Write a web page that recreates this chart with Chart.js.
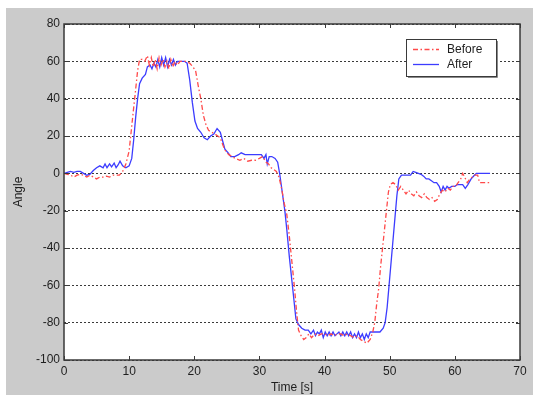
<!DOCTYPE html>
<html>
<head>
<meta charset="utf-8">
<script src="https://cdn.jsdelivr.net/npm/chart.js@4/dist/chart.umd.min.js"></script>
<style>
  html, body { margin: 0; padding: 0; background: #ffffff; }
  #wrap { position: absolute; left: 0; top: 0; width: 533px; height: 395px; }
</style>
</head>
<body>
<div id="wrap"><canvas id="c" width="533" height="395"></canvas></div>
<script>
// ---- data ----
const xTicks = [0, 10, 20, 30, 40, 50, 60, 70];
const yTicks = [-100, -80, -60, -40, -20, 0, 20, 40, 60, 80];
const seriesNames = ["Before", "After"];

const beforeTime = [0,0.5,1,1.5,2,2.5,3,3.5,4,4.5,5,5.5,6,6.5,7,7.5,8,8.5,9,9.5,10,10.3,10.6,11,11.3,11.6,12,12.4,12.8,13.1,13.4,13.7,14,14.3,14.6,14.9,15.2,15.5,15.8,16.1,16.4,16.7,17,17.4,17.8,18.3,18.8,19.3,19.8,20.2,20.6,21,21.4,21.8,22.2,22.7,23.2,23.6,24,24.4,24.8,25.3,25.8,26.3,27,27.6,28.2,28.8,29.4,30,30.5,31,31.4,31.8,32.2,32.6,33,33.4,33.8,34.2,34.6,35,35.4,35.7,36,36.4,36.8,37.2,37.6,38,38.5,39,39.5,40,40.5,41,41.5,42,42.5,43,43.5,44,44.5,45,45.5,46,46.5,47,47.4,47.7,48,48.3,48.6,48.9,49.2,49.5,49.8,50.1,50.5,50.9,51.3,51.7,52.1,52.5,52.9,53.3,53.7,54.1,54.5,54.9,55.3,55.7,56.1,56.5,56.9,57.3,57.7,58.1,58.5,58.9,59.3,59.7,60.1,60.5,60.9,61.2,61.5,61.9,62.3,62.7,63.1,63.5,63.8,64.5,65.3];
const beforeAngle = [0,-0.5,-1,-2,-1,-0.5,-1,-2,-1,-2,-3,-2,-2,-1.5,-2,-1,-1,-1,1,5,12,22,32,45,55,61,61,60,63,58,62,57,61,56,62,58,61,57,60,56,61,57,60,58,60,60,60,59,57,55,47,40,31,26,23,22,21,20,19,15,12,10,9,8,7,8,6.5,7,7,8,9,6,5,3,2,1,-2,-8,-16,-22,-34,-48,-62,-74,-84,-87,-89,-88,-86,-88,-86,-87,-86,-86,-87,-86,-87,-86,-86,-87,-86,-87,-88,-87,-89,-90,-91,-89,-85,-80,-70,-62,-50,-40,-30,-20,-10,-6,-5,-6,-9,-7,-9,-11,-9,-11,-12,-10,-12,-13,-11,-13,-14,-13,-15,-14,-11,-9,-10,-8,-9,-7,-7,-5,-3,0,-2,-5,-3,-2,-1,-1,-5,-5,-5];

const afterTime = [0,0.5,1,1.5,2,2.5,3,3.5,4,4.5,5,5.5,6,6.3,6.6,7,7.3,7.7,8,8.3,8.6,9,9.5,10,10.4,10.7,11,11.3,11.6,12,12.5,12.8,13.2,13.5,13.8,14.1,14.4,14.7,15,15.3,15.6,15.9,16.2,16.5,16.8,17.1,17.4,17.8,18.5,18.9,19.3,19.7,20.1,20.5,21,21.5,22,22.5,23,23.5,24,24.3,24.7,25.2,25.6,26.2,26.8,27.2,27.8,28.5,29.5,30.3,30.7,31,31.2,31.5,31.9,32.4,32.8,33.1,33.5,33.9,34.2,34.6,35,35.3,35.6,36,36.5,37,37.5,37.9,38.3,38.6,38.9,39.2,39.5,39.8,40.1,40.4,40.7,41,41.3,41.6,41.9,42.2,42.5,42.8,43.1,43.4,43.7,44,44.3,44.6,44.9,45.2,45.5,45.8,46.1,46.4,46.7,47,47.5,48,48.5,49,49.3,49.6,49.9,50.2,50.5,50.8,51.1,51.4,51.8,52.3,52.8,53.2,53.6,54,54.4,54.8,55.2,55.6,56,56.4,56.8,57.2,57.6,57.9,58.2,58.5,58.8,59.1,59.5,60,60.4,60.8,61.2,61.6,62,62.5,63,63.3,64,65,65.4];
const afterAngle = [0,0.5,1,0.5,1,1,0,-1,-0.5,1.5,3,4,3,5,3,5,3.5,5.5,3,4.5,6.5,4,3,4,8,18,30,40,48,51,53,57,58,56,59,57,61,57,62,58,62,57,61,58,61,58,60,60,60,59,50,38,28,24,22,19,18,20,21,24,22,18,13,11,9,9,10,11,10,10,10,10,8,10,5,9,9,8,6,0,-10,-20,-30,-45,-58,-68,-78,-81,-83,-84,-84,-86,-84,-87,-85,-86,-84,-88,-85,-87,-85,-87,-85,-87,-86,-85,-87,-85,-87,-85,-87,-85,-88,-86,-88,-85,-88,-86,-89,-86,-88,-85,-85,-85,-85,-83,-80,-72,-60,-48,-36,-24,-12,-3,-1,-1,-1,-1,1,0.5,0,-0.5,-1.5,-3,-3,-4,-5,-5,-7,-10,-7,-9,-7,-8,-7,-7,-6,-6,-6,-8,-6,-3,-1,0,0,0,0];

const toPts = (t, v) => t.map((x, i) => ({ x: x, y: v[i] }));

const FONT = "'Liberation Sans', Arial, sans-serif";
const TXT = '#1e1e1e';

const bgPlugin = {
  id: 'bg',
  beforeDraw(chart) {
    const ctx = chart.ctx;
    ctx.save();
    ctx.fillStyle = '#ffffff';
    ctx.fillRect(0, 0, chart.width, chart.height);
    ctx.fillStyle = '#cbcbcb';
    ctx.fillRect(6, 8, chart.width - 6, chart.height - 8);
    const a = chart.chartArea;
    ctx.fillStyle = '#ffffff';
    ctx.fillRect(a.left, a.top, a.right - a.left, a.bottom - a.top);
    ctx.restore();
  }
};

const framePlugin = {
  id: 'frame',
  afterDatasetsDraw(chart) {
    const ctx = chart.ctx, a = chart.chartArea;
    const xs = chart.scales.x, ys = chart.scales.y;
    ctx.save();
    ctx.strokeStyle = '#3a3a3a';
    ctx.lineWidth = 1.5;
    ctx.strokeRect(a.left, a.top, a.right - a.left, a.bottom - a.top);
    ctx.lineWidth = 1;
    ctx.beginPath();
    xTicks.forEach(v => {
      const px = Math.round(xs.getPixelForValue(v)) + 0.5;
      ctx.moveTo(px, a.bottom); ctx.lineTo(px, a.bottom - 4);
      ctx.moveTo(px, a.top); ctx.lineTo(px, a.top + 4);
    });
    yTicks.forEach(v => {
      const py = Math.round(ys.getPixelForValue(v)) + 0.5;
      ctx.moveTo(a.left, py); ctx.lineTo(a.left + 4, py);
      ctx.moveTo(a.right, py); ctx.lineTo(a.right - 4, py);
    });
    ctx.stroke();
    ctx.restore();
  }
};

const legendPlugin = {
  id: 'boxLegend',
  afterDraw(chart) {
    const ctx = chart.ctx;
    const x0 = 406, y0 = 39, w = 90, h = 37;
    ctx.save();
    ctx.fillStyle = '#ffffff';
    ctx.fillRect(x0, y0, w, h);
    ctx.strokeStyle = '#3a3a3a';
    ctx.lineWidth = 1;
    ctx.strokeRect(x0 + 0.5, y0 + 0.5, w, h);
    ctx.strokeStyle = '#8a8a8a';
    ctx.beginPath();
    ctx.moveTo(x0 + w + 1.5, y0 + 2); ctx.lineTo(x0 + w + 1.5, y0 + h + 1.5); ctx.lineTo(x0 + 2, y0 + h + 1.5);
    ctx.stroke();
    chart.data.datasets.forEach((ds, i) => {
      const yy = y0 + 10.5 + i * 15;
      ctx.strokeStyle = ds.borderColor;
      ctx.lineWidth = ds.borderWidth;
      ctx.setLineDash(ds.borderDash || []);
      ctx.beginPath();
      ctx.moveTo(x0 + 7, yy); ctx.lineTo(x0 + 33, yy);
      ctx.stroke();
      ctx.setLineDash([]);
      ctx.fillStyle = TXT;
      ctx.font = '12px ' + FONT;
      ctx.textBaseline = 'middle';
      ctx.textAlign = 'left';
      ctx.fillText(ds.label, x0 + 41, yy);
    });
    ctx.restore();
  }
};

new Chart(document.getElementById('c'), {
  type: 'line',
  data: {
    datasets: [
      { label: seriesNames[0], data: toPts(beforeTime, beforeAngle), borderColor: '#ff4a4a', borderWidth: 1.3, borderDash: [5, 2.5, 1.5, 2.5], pointRadius: 0, tension: 0, fill: false },
      { label: seriesNames[1], data: toPts(afterTime, afterAngle), borderColor: '#3c3cff', borderWidth: 1.3, pointRadius: 0, tension: 0, fill: false }
    ]
  },
  options: {
    responsive: false,
    animation: false,
    events: [],
    layout: { padding: { left: 0, top: 24, right: 13, bottom: 0 } },
    plugins: { legend: { display: false }, tooltip: { enabled: false } },
    scales: {
      x: {
        type: 'linear', min: 0, max: 70,
        afterBuildTicks(s) { s.ticks = xTicks.map(v => ({ value: v })); },
        afterFit(s) { s.height = 35; },
        grid: { display: false, drawTicks: false },
        border: { display: false },
        ticks: { padding: 4, color: TXT, font: { family: FONT, size: 12 }, maxRotation: 0 },
        title: { display: true, text: 'Time [s]', color: TXT, font: { family: FONT, size: 12 }, padding: { top: 0, bottom: 0 } }
      },
      y: {
        min: -100, max: 80,
        afterBuildTicks(s) { s.ticks = yTicks.map(v => ({ value: v })); },
        afterFit(s) { s.width = 64; },
        grid: { color: '#3a3a3a', lineWidth: 1, drawTicks: false, tickBorderDash: [2, 2] },
        border: { display: false, dash: [2, 2] },
        ticks: { padding: 4, color: TXT, font: { family: FONT, size: 12 } },
        title: { display: true, text: 'Angle', color: TXT, font: { family: FONT, size: 12 }, padding: { top: 11, bottom: 0 } }
      }
    }
  },
  plugins: [bgPlugin, framePlugin, legendPlugin]
});
</script>
</body>
</html>
